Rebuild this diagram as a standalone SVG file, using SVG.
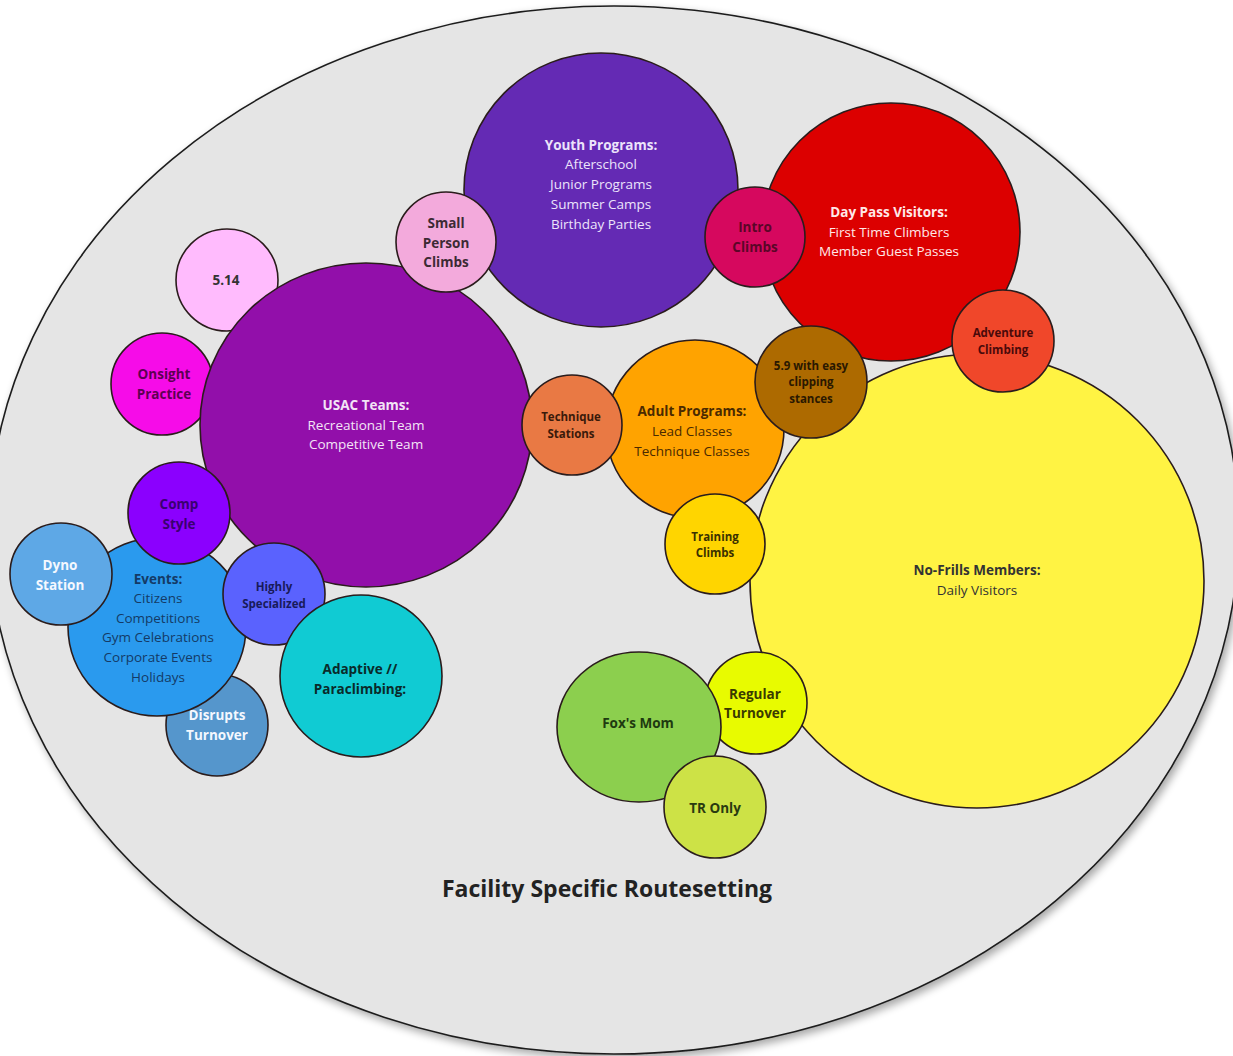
<svg xmlns="http://www.w3.org/2000/svg" width="1233" height="1056" viewBox="0 0 1233 1056">
<style>
.n{stroke:#2a1c1c;stroke-width:1.6}
text{font-family:"Open Sans","Noto Sans","Liberation Sans",sans-serif;text-anchor:middle;font-size:13.5px}
.b{font-weight:700}
.s{font-size:11.5px;font-weight:700}
.t{font-size:23px;font-weight:700}
</style>
<defs>
<filter id="sh" x="-5%" y="-5%" width="115%" height="115%">
<feGaussianBlur in="SourceAlpha" stdDeviation="4"/>
<feOffset dx="3" dy="4"/>
<feComponentTransfer><feFuncA type="linear" slope="0.35"/></feComponentTransfer>
<feMerge><feMergeNode/><feMergeNode in="SourceGraphic"/></feMerge>
</filter>
</defs>
<rect width="1233" height="1056" fill="#ffffff"/>
<g id="facility">
<ellipse cx="614" cy="530" rx="625" ry="524" fill="#e5e5e5" stroke="#1e1e1e" stroke-width="1.6" filter="url(#sh)"/>
<text x="607" y="897" class="t" fill="#222">Facility Specific Routesetting</text>
</g>
<g id="connectors"></g>
<g id="disrupts"><circle class="n" cx="217" cy="725" r="51" fill="#5596cc"/><text class="b" fill="#f4f8ff"><tspan x="217" y="720">Disrupts</tspan><tspan x="217" y="740">Turnover</tspan></text></g>
<g id="onsight"><circle class="n" cx="162" cy="384" r="51" fill="#f60ce8"/><text class="b" fill="#5c0052"><tspan x="164" y="379">Onsight</tspan><tspan x="164" y="399">Practice</tspan></text></g>
<g id="g514"><circle class="n" cx="227" cy="280" r="51" fill="#ffbbfd"/><text x="226" y="285" class="b" fill="#333">5.14</text></g>
<g id="youth"><circle class="n" cx="601" cy="190" r="137" fill="#642ab4"/><text fill="#ece4fb"><tspan x="601" y="150" class="b">Youth Programs:</tspan><tspan x="601" y="169">Afterschool</tspan><tspan x="601" y="189">Junior Programs</tspan><tspan x="601" y="209">Summer Camps</tspan><tspan x="601" y="229">Birthday Parties</tspan></text></g>
<g id="usac"><ellipse class="n" cx="366" cy="425" rx="166" ry="162" fill="#920faa"/><text fill="#f3e4f6"><tspan x="366" y="410" class="b">USAC Teams:</tspan><tspan x="366" y="430">Recreational Team</tspan><tspan x="366" y="449">Competitive Team</tspan></text></g>
<g id="smallperson"><circle class="n" cx="446" cy="242" r="50" fill="#f3aadc"/><text class="b" fill="#3c2a34"><tspan x="446" y="228">Small</tspan><tspan x="446" y="248">Person</tspan><tspan x="446" y="267">Climbs</tspan></text></g>
<g id="daypass"><circle class="n" cx="891" cy="232" r="129" fill="#dc0000"/><text fill="#ffe8e8"><tspan x="889" y="217" class="b">Day Pass Visitors:</tspan><tspan x="889" y="237">First Time Climbers</tspan><tspan x="889" y="256">Member Guest Passes</tspan></text></g>
<g id="intro"><circle class="n" cx="755" cy="237" r="50" fill="#d6085e"/><text class="b" fill="#5a0628"><tspan x="755" y="232">Intro</tspan><tspan x="755" y="252">Climbs</tspan></text></g>
<g id="nofrills"><circle class="n" cx="977" cy="581" r="227" fill="#fff343"/><text fill="#333"><tspan x="977" y="575" class="b">No-Frills Members:</tspan><tspan x="977" y="595">Daily Visitors</tspan></text></g>
<g id="adult"><circle class="n" cx="695" cy="429" r="89" fill="#ffa300"/><text fill="#4a2a00"><tspan x="692" y="416" class="b">Adult Programs:</tspan><tspan x="692" y="436">Lead Classes</tspan><tspan x="692" y="456">Technique Classes</tspan></text></g>
<g id="training"><circle class="n" cx="715" cy="544" r="50" fill="#ffd500"/><text class="s" fill="#3a3000"><tspan x="715" y="541">Training</tspan><tspan x="715" y="557">Climbs</tspan></text></g>
<g id="technique"><circle class="n" cx="572" cy="425" r="50" fill="#e97944"/><text class="s" fill="#3a1a0a"><tspan x="571" y="421">Technique</tspan><tspan x="571" y="438">Stations</tspan></text></g>
<g id="g59"><circle class="n" cx="811" cy="382" r="56" fill="#ad6a00"/><text class="s" fill="#2a1800"><tspan x="811" y="370">5.9 with easy</tspan><tspan x="811" y="386">clipping</tspan><tspan x="811" y="403">stances</tspan></text></g>
<g id="adventure"><circle class="n" cx="1003" cy="341" r="51" fill="#f0472a"/><text class="s" fill="#4a0a0a"><tspan x="1003" y="337">Adventure</tspan><tspan x="1003" y="354">Climbing</tspan></text></g>
<g id="events"><circle class="n" cx="157" cy="627" r="89" fill="#2a9aee"/><text fill="#143a66"><tspan x="158" y="584" class="b">Events:</tspan><tspan x="158" y="603">Citizens</tspan><tspan x="158" y="623">Competitions</tspan><tspan x="158" y="642">Gym Celebrations</tspan><tspan x="158" y="662">Corporate Events</tspan><tspan x="158" y="682">Holidays</tspan></text></g>
<g id="dyno"><circle class="n" cx="61" cy="574" r="51" fill="#5ea8e6"/><text class="b" fill="#f4f8ff"><tspan x="60" y="570">Dyno</tspan><tspan x="60" y="590">Station</tspan></text></g>
<g id="comp"><circle class="n" cx="179" cy="513" r="51" fill="#8b00fe"/><text class="b" fill="#3a0070"><tspan x="179" y="509">Comp</tspan><tspan x="179" y="529">Style</tspan></text></g>
<g id="highly"><circle class="n" cx="274" cy="594" r="51" fill="#5a62fe"/><text class="s" fill="#181a5a"><tspan x="274" y="591">Highly</tspan><tspan x="274" y="608">Specialized</tspan></text></g>
<g id="adaptive"><circle class="n" cx="361" cy="676" r="81" fill="#10cbd3"/><text class="b" fill="#0a2a2a"><tspan x="360" y="674">Adaptive //</tspan><tspan x="360" y="694">Paraclimbing:</tspan></text></g>
<g id="regular"><circle class="n" cx="756" cy="703" r="51" fill="#e8fb00"/><text class="b" fill="#3a3a00"><tspan x="755" y="699">Regular</tspan><tspan x="755" y="718">Turnover</tspan></text></g>
<g id="foxsmom"><ellipse class="n" cx="639" cy="727" rx="82" ry="75" fill="#8ccf4e"/><text x="638" y="728" class="b" fill="#1e3a10">Fox's Mom</text></g>
<g id="tronly"><circle class="n" cx="715" cy="807" r="51" fill="#cde246"/><text x="715" y="813" class="b" fill="#2a3a10">TR Only</text></g>
</svg>
